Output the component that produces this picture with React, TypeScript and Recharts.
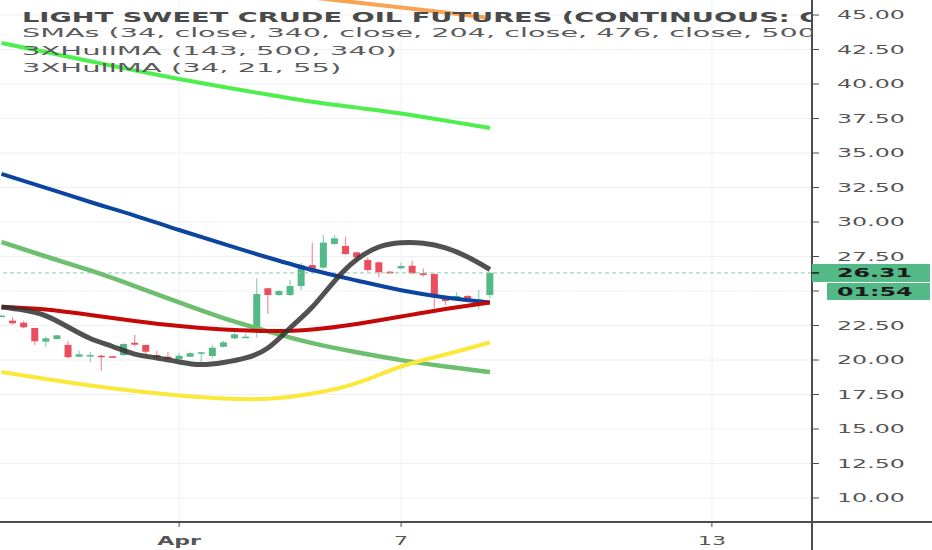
import React from 'react';
import { ComposedChart, Bar, Line, XAxis, YAxis, CartesianGrid, ReferenceLine } from 'recharts';

// candles, one per bar index
const candleOpen = [23.15, 22.85, 22.7, 22.32, 21.33, 21.52, 21.09, 20.24, 20.3, 20.31, 20.27, 20.36, 21.25, 21.09, 20.36, 20.24, 20.05, 20.24, 20.53, 20.29, 20.96, 21.57, 21.66, 22.3, 25.2, 24.71, 24.71, 25.36, 26.88, 26.7, 28.41, 28.26, 27.8, 27.25, 27.08, 26.4, 26.64, 26.83, 26.28, 26.23, 24.54, 24.47, 24.64, 24.33, 24.71];
const candleHigh = [23.3, 23.1, 22.85, 22.35, 21.69, 21.81, 21.4, 20.67, 20.6, 20.39, 20.3, 21.2, 21.81, 21.1, 20.67, 20.58, 20.5, 20.6, 20.58, 21.09, 21.4, 22.0, 21.9, 25.92, 25.2, 25.05, 25.8, 27.05, 28.5, 29.06, 29.06, 28.94, 27.85, 27.45, 27.12, 26.45, 27.05, 27.2, 26.64, 26.28, 24.69, 24.9, 24.72, 25.07, 26.4];
const candleLow = [23.1, 22.55, 22.3, 21.09, 20.92, 21.5, 20.1, 20.2, 19.83, 19.22, 20.2, 20.3, 20.97, 20.36, 20.05, 20.0, 20.0, 20.2, 19.88, 20.12, 20.9, 21.5, 21.6, 21.64, 23.33, 24.65, 24.64, 25.07, 26.28, 26.6, 28.33, 27.61, 27.13, 26.4, 25.99, 26.25, 26.57, 26.23, 26.04, 23.75, 23.99, 24.35, 24.21, 23.67, 24.47];
const candleClose = [23.22, 22.66, 22.37, 21.36, 21.57, 21.79, 20.2, 20.41, 20.36, 20.28, 20.24, 21.16, 21.11, 20.6, 20.2, 20.07, 20.31, 20.49, 20.56, 20.89, 21.28, 21.86, 21.69, 24.78, 24.71, 25.0, 25.36, 26.88, 26.4, 28.51, 28.82, 27.68, 27.44, 26.52, 26.36, 26.28, 26.81, 26.28, 26.16, 24.54, 24.28, 24.64, 24.35, 24.38, 26.31];

// moving averages, sampled every 4th bar
const slowIdx = [0, 4, 8, 12, 16, 20, 24, 28, 32, 36, 40, 44];
const smaLime = [42.97, 42.32, 41.65, 40.99, 40.36, 39.78, 39.24, 38.71, 38.29, 37.86, 37.35, 36.82];
const smaBlue = [33.49, 32.48, 31.45, 30.47, 29.42, 28.41, 27.43, 26.52, 25.76, 25.06, 24.53, 24.17];
const smaGreen = [28.54, 27.5, 26.49, 25.36, 24.17, 23.04, 22.08, 21.22, 20.56, 19.99, 19.53, 19.13];
const smaYellow = [19.13, 18.62, 18.15, 17.75, 17.43, 17.21, 17.19, 17.57, 18.33, 19.53, 20.4, 21.27];
const smaOrange = [null, null, null, null, null, null, null, 46.27, 45.91, 45.54, 45.18, 44.78];
const hullSlow = [23.84, 23.66, 23.26, 22.83, 22.46, 22.21, 22.1, 22.21, 22.61, 23.15, 23.7, 24.17];

// fast hull, every 2nd bar
const fastIdx = [0, 2, 4, 6, 8, 10, 12, 14, 16, 18, 20, 22, 24, 26, 28, 30, 32, 34, 36, 38, 40, 42, 44];
const hullFast = [23.84, 23.62, 23.2, 22.39, 21.56, 20.98, 20.43, 20.15, 19.86, 19.67, 19.82, 20.15, 20.87, 22.32, 23.84, 25.72, 27.28, 28.19, 28.5, 28.46, 28.12, 27.46, 26.56];

const yTicks = [10, 12.5, 15, 17.5, 20, 22.5, 25, 27.5, 30, 32.5, 35, 37.5, 40, 42.5, 45];
const lastPrice = 26.31;
const countdown = '01:54';
const xTickIdx = [16, 36, 64];
const xTickLabels = ['Apr', '7', '13'];

const UP = '#53b987';
const DOWN = '#eb4d5c';
const WICK_UP = '#8fd1b2';
const WICK_DOWN = '#f3909a';
const AXIS = '#4d4d4d';
const TICK = 7;
const TICK_GAP = 2;

const pick = (idx: number[], vals: (number | null)[], i: number) => {
    const k = idx.indexOf(i);
    return k < 0 || vals[k] == null ? undefined : vals[k];
};

const rows = candleOpen.map((o, i) => ({
    i,
    open: o,
    high: candleHigh[i],
    low: candleLow[i],
    close: candleClose[i],
    range: [candleLow[i], candleHigh[i]],
    lime: pick(slowIdx, smaLime, i),
    blue: pick(slowIdx, smaBlue, i),
    green: pick(slowIdx, smaGreen, i),
    yellow: pick(slowIdx, smaYellow, i),
    orange: pick(slowIdx, smaOrange, i),
    hullSlow: pick(slowIdx, hullSlow, i),
    hullFast: pick(fastIdx, hullFast, i),
}));

function Candle(props: any) {
    const { x, y, width, height, payload } = props;
    if (!payload) return null;
    const { open, close, high, low } = payload;
    const up = close >= open;
    const top0 = Math.min(y, y + height);
    const h = Math.abs(height);
    const span = high - low || 1;
    const py = (v: number) => top0 + ((high - v) / span) * h;
    const top = py(Math.max(open, close));
    const bot = py(Math.min(open, close));
    const cx = x + width / 2;
    return (
        <g>
            <line x1={cx} x2={cx} y1={top0} y2={top0 + h} stroke={up ? WICK_UP : WICK_DOWN} strokeWidth={1.2} />
            <rect x={x} y={top} width={width} height={Math.max(1.5, bot - top)} fill={up ? UP : DOWN} />
        </g>
    );
}

function PriceTick(props: any) {
    const { x, y, payload } = props;
    const v = payload.value;
    const axisX = x - TICK - TICK_GAP;
    if (v === lastPrice) {
        return (
            <g>
                <rect x={axisX} y={y - 9} width={118} height={18} fill={UP} />
                <line x1={axisX} x2={axisX + TICK} y1={y} y2={y} stroke="#1e1e1e" strokeWidth={1.5} />
                <text transform={`translate(${axisX + 25},${y}) scale(1.93,1)`} dy="0.36em" fontFamily="DejaVu Sans" fontWeight="bold" fontSize={12.3} fill="#1a1a1a">
                    {v.toFixed(2)}
                </text>
                <rect x={axisX + 15} y={y + 10} width={103} height={17} fill={UP} />
                <text transform={`translate(${axisX + 25},${y + 18.5}) scale(1.93,1)`} dy="0.36em" fontFamily="DejaVu Sans" fontWeight="bold" fontSize={12.3} fill="#1a1a1a">
                    {countdown}
                </text>
            </g>
        );
    }
    return (
        <text transform={`translate(${axisX + 25},${y}) scale(1.93,1)`} dy="0.36em" fontFamily="DejaVu Sans" fontSize={12.3} fill="#555">
            {v.toFixed(2)}
        </text>
    );
}

function DateTick(props: any) {
    const { x, y, payload } = props;
    const k = xTickIdx.indexOf(payload.value);
    const label = k < 0 ? '' : xTickLabels[k];
    return (
        <text transform={`translate(${x},${y + 12}) scale(1.8,1)`} dy="0.36em" textAnchor="middle" fontFamily="DejaVu Sans" fontWeight={label === 'Apr' ? 'bold' : 'normal'} fontSize={12.3} fill="#555">
            {label}
        </text>
    );
}

export default function App() {
    return (
        <div style={{ position: 'fixed', left: 0, top: 0, width: 932, height: 550, background: '#fff', overflow: 'hidden' }}>
            <ComposedChart width={932} height={550} data={rows} margin={{ top: 0, right: 0, left: 0, bottom: 0 }}>
                <CartesianGrid stroke="#eef0f4" horizontalValues={yTicks} verticalValues={xTickIdx} />
                <XAxis
                    dataKey="i"
                    type="number"
                    domain={[-0.135, 73.018]}
                    allowDataOverflow
                    ticks={xTickIdx}
                    interval={0}
                    height={28}
                    tick={<DateTick />}
                    tickSize={5}
                    axisLine={{ stroke: AXIS, strokeWidth: 2 }}
                    tickLine={{ stroke: AXIS }}
                />
                <YAxis
                    orientation="right"
                    width={120}
                    domain={[8.26, 46.09]}
                    allowDataOverflow
                    ticks={[...yTicks, lastPrice]}
                    interval={0}
                    tick={<PriceTick />}
                    tickSize={TICK}
                    tickMargin={TICK_GAP}
                    axisLine={{ stroke: AXIS, strokeWidth: 2 }}
                    tickLine={{ stroke: AXIS }}
                />
                <ReferenceLine y={lastPrice} stroke="#86cdaa" strokeDasharray="4 3" />
                <Bar dataKey="range" barSize={7} shape={<Candle />} isAnimationActive={false} />

                {/* SMAs */}
                <Line type="monotone" dataKey="orange" stroke="#f9a453" strokeWidth={4} dot={false} activeDot={false} connectNulls isAnimationActive={false} />
                <Line type="monotone" dataKey="lime" stroke="#4cef4c" strokeWidth={4} dot={false} activeDot={false} connectNulls isAnimationActive={false} />
                <Line type="natural" dataKey="green" stroke="#6dbf6f" strokeWidth={4.5} dot={false} activeDot={false} connectNulls isAnimationActive={false} />
                <Line type="natural" dataKey="yellow" stroke="#fbe838" strokeWidth={4} dot={false} activeDot={false} connectNulls isAnimationActive={false} />
                <Line type="monotone" dataKey="blue" stroke="#0b45a0" strokeWidth={4} dot={false} activeDot={false} connectNulls isAnimationActive={false} />

                {/* Hull MAs */}
                <Line type="natural" dataKey="hullSlow" stroke="#c50808" strokeWidth={4} dot={false} activeDot={false} connectNulls isAnimationActive={false} />
                <Line type="natural" dataKey="hullFast" stroke="#333" strokeOpacity={0.85} strokeWidth={5} dot={false} activeDot={false} connectNulls isAnimationActive={false} />
            </ComposedChart>

            {/* axis lines continue past the plot corner */}
            <div style={{ position: 'absolute', left: 812, top: 521, width: 120, height: 2, background: AXIS }} />
            <div style={{ position: 'absolute', left: 811, top: 522, width: 2, height: 28, background: AXIS }} />

            <svg width={812} height={90} style={{ position: 'absolute', left: 0, top: 0, pointerEvents: 'none' }}>
                <text transform="translate(22,21.7) scale(1.99,1)" fontFamily="DejaVu Sans" fontWeight="bold" fontSize={13.7} fill="#4a4a4a">
                    LIGHT SWEET CRUDE OIL FUTURES (CONTINUOUS: CURRENT CONTRACT IN FRONT)
                </text>
                <text transform="translate(22,37.3) scale(2.24,1)" fontFamily="DejaVu Sans" fontSize={12.8} fill="#5a5a5a">
                    SMAs (34, close, 340, close, 204, close, 476, close, 500, close)
                </text>
                <text transform="translate(22,55) scale(2.27,1)" fontFamily="DejaVu Sans" fontSize={12.8} fill="#5a5a5a">
                    3XHullMA (143, 500, 340)
                </text>
                <text transform="translate(22,72.3) scale(2.27,1)" fontFamily="DejaVu Sans" fontSize={12.8} fill="#5a5a5a">
                    3XHullMA (34, 21, 55)
                </text>
            </svg>
        </div>
    );
}
